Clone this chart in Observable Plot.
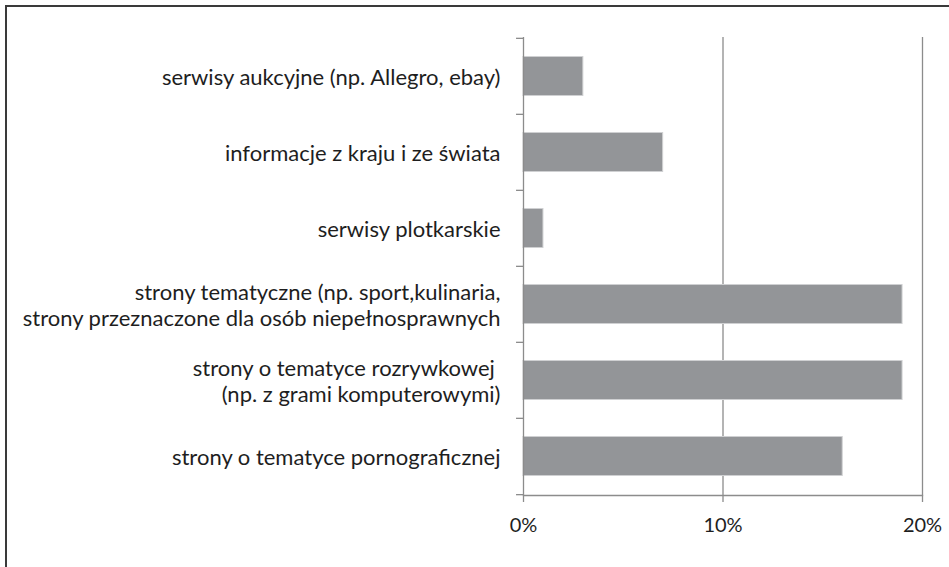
<!DOCTYPE html>
<html><head><meta charset="utf-8">
<script src="https://cdn.jsdelivr.net/npm/d3@7"></script>
<script src="https://cdn.jsdelivr.net/npm/@observablehq/plot@0.6"></script>
<style>
body{margin:0;background:#fff;}
#wrap{position:relative;width:949px;height:567px;overflow:hidden;}
#frame{position:absolute;left:5px;top:5px;width:980px;height:600px;border-left:2px solid #3a3a3a;border-top:2px solid #3a3a3a;pointer-events:none;}
</style></head><body>
<div id="wrap"><div id="chart"></div><div id="frame"></div></div>
<script>
const categories = [
  "serwisy aukcyjne (np. Allegro, ebay)",
  "informacje z kraju i ze świata",
  "serwisy plotkarskie",
  "strony tematyczne (np. sport,kulinaria,\nstrony przeznaczone dla osób niepełnosprawnych",
  "strony o tematyce rozrywkowej \n(np. z grami komputerowymi)",
  "strony o tematyce pornograficznej"
];
const values = [3, 7, 1, 19, 19, 16];
const xTicks = [0, 10, 20];
const gridTicks = [10, 20];

const data = categories.map((c, i) => ({category: c, value: values[i]}));
const W = 949, H = 567, mL = 523, mR = 27, mT = 37, mB = 72;
const step = (H - mT - mB) / categories.length;
const axisColor = "#8c8c8c";

const chart = Plot.plot({
  width: W, height: H,
  marginLeft: mL, marginRight: mR, marginTop: mT, marginBottom: mB,
  style: {fontFamily: "Lato, 'Open Sans', sans-serif", fontSize: "22px", color: "#1e1e1e", background: "#fff"},
  x: {domain: [0, 20]},
  y: {domain: categories, padding: 0},
  marks: [
    Plot.gridX(gridTicks, {stroke: axisColor, strokeOpacity: 1, strokeWidth: 1.3}),
    Plot.barX(data, {x: "value", y: "category", fill: "#939598", stroke: "#cfd0d2", strokeWidth: 1, insetTop: 18.5, insetBottom: 18.5}),
    Plot.ruleX([0], {stroke: axisColor, strokeWidth: 1.3}),
    Plot.frame({anchor: "bottom", stroke: axisColor, strokeWidth: 1.3}),
    Plot.ruleY(categories, {y: d => d, x1: -0.35, x2: 0, dy: -step / 2, stroke: axisColor, strokeWidth: 1.3}),
    Plot.ruleY(categories.slice(-1), {y: d => d, x1: -0.35, x2: 0, dy: step / 2, stroke: axisColor, strokeWidth: 1.3}),
    Plot.axisY({tickSize: 0, tickPadding: 23, fontSize: 22, lineHeight: 1.2, label: null}),
    Plot.axisX(xTicks, {tickSize: 7, tickPadding: 15, stroke: axisColor, strokeWidth: 1.3, tickFormat: d => d + "%", fontSize: 20, label: null})
  ]
});
document.getElementById("chart").appendChild(chart);
</script>
</body></html>
